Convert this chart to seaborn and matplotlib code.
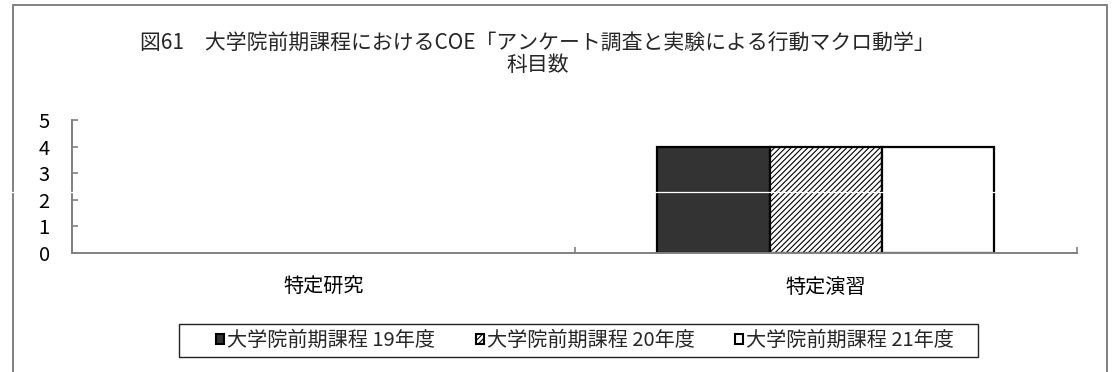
import matplotlib
matplotlib.use("Agg")
import matplotlib.pyplot as plt
from matplotlib.patches import Patch, Rectangle
from matplotlib.lines import Line2D
import seaborn as sns
import pandas as pd

# Subject counts per course type and academic year
categories = ["特定研究", "特定演習"]
series_names = ["大学院前期課程 19年度", "大学院前期課程 20年度", "大学院前期課程 21年度"]
counts_19 = [0, 4]
counts_20 = [0, 4]
counts_21 = [0, 4]
y_ticks = [0, 1, 2, 3, 4, 5]
title_text = "図61　大学院前期課程におけるCOE「アンケート調査と実験による行動マクロ動学」\n科目数"

df = pd.DataFrame({
    "category": categories * 3,
    "series": [series_names[0]] * 2 + [series_names[1]] * 2 + [series_names[2]] * 2,
    "count": counts_19 + counts_20 + counts_21,
})

sns.set_theme(style="white")
plt.rcParams["font.family"] = ["Noto Sans CJK JP", "DejaVu Sans"]
plt.rcParams["hatch.linewidth"] = 0.8

fills = ["#333333", "#ffffff", "#ffffff"]
hatches = [None, "//////", None]
GRAY = "#808080"
FS = 14.5

fig = plt.figure(figsize=(11.15, 3.72), dpi=100)
ax = fig.add_axes([0.0646, 0.3199, 0.9013, 0.3575])

sns.barplot(data=df, x="category", y="count", hue="series", order=categories,
            hue_order=series_names, palette=fills, edgecolor="black",
            linewidth=1.6, width=0.67, gap=0, saturation=1, legend=False, ax=ax)

for cont, h in zip(ax.containers, hatches):
    for p in cont.patches:
        if h:
            p.set_hatch(h)
        if p.get_height() == 0:
            p.set_linewidth(0)

ax.set_ylim(0, 5)
ax.set_xlim(-0.5, 1.5)
ax.set_yticks(y_ticks)
ax.set_xlabel("")
ax.set_ylabel("")
for s in ["top", "right"]:
    ax.spines[s].set_visible(False)
for s in ["left", "bottom"]:
    ax.spines[s].set_color(GRAY)
    ax.spines[s].set_linewidth(1.4)

ax.tick_params(axis="y", direction="in", length=4, width=1.2, color=GRAY,
               pad=16, labelsize=FS, labelcolor="black", left=True)
ax.tick_params(axis="x", which="major", length=0, pad=17, labelsize=FS,
               labelcolor="black")
ax.set_xticks([-0.5, 0.5, 1.5], minor=True)
ax.tick_params(axis="x", which="minor", direction="in", length=4, width=1.2,
               color=GRAY, bottom=True)

fig.text(0.482, 0.855, title_text, ha="center", va="center", fontsize=15,
         linespacing=1.0, multialignment="center")

handles = [Patch(facecolor=f, edgecolor="black", hatch=h, linewidth=1.5)
           for f, h in zip(fills, hatches)]
fig.legend(handles, series_names, loc="center", ncol=3,
           bbox_to_anchor=(585 / 1115, 1 - 340.5 / 372), frameon=False,
           borderpad=0, fontsize=FS, handlelength=0.4, handleheight=0.4,
           handletextpad=0.15, columnspacing=2.0)
fig.add_artist(Rectangle((179 / 1115, 1 - 357 / 372), 799 / 1115, 33 / 372,
                         transform=fig.transFigure, fill=False,
                         edgecolor="#222222", linewidth=1.0))

# outer chart frame (bottom edge runs past the canvas)
fig.add_artist(Rectangle((13 / 1115, -0.05), 1094 / 1115, 1.05 - 5 / 372,
                         transform=fig.transFigure, fill=False,
                         edgecolor=GRAY, linewidth=1.4))
# thin white seam across the chart
fig.add_artist(Line2D([0, 996 / 1115], [1 - 192 / 372] * 2,
                      transform=fig.transFigure, color="white",
                      linewidth=0.9, zorder=10))

fig.savefig("out.png", dpi=100)
